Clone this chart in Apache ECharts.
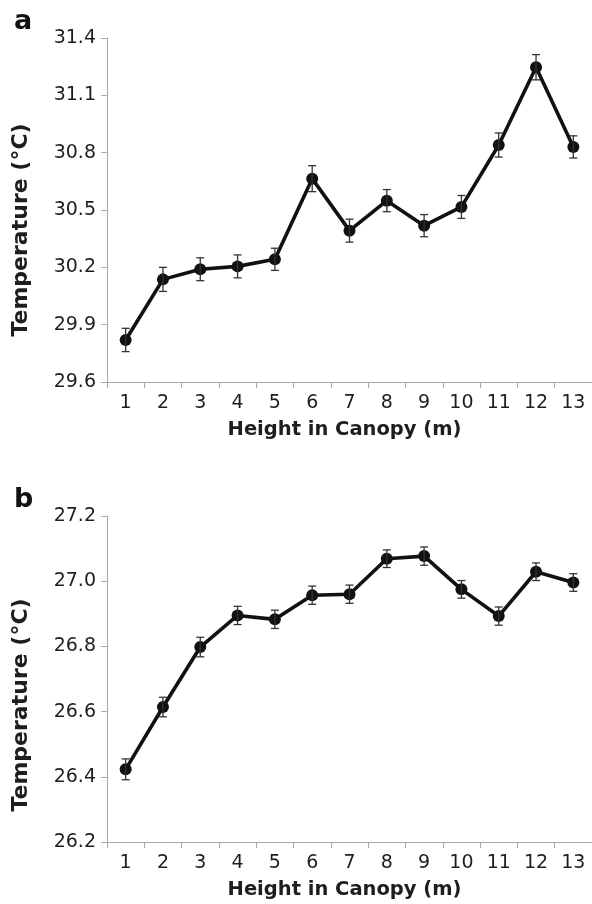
<!DOCTYPE html>
<html>
<head>
<meta charset="utf-8">
<script src="https://cdn.jsdelivr.net/npm/echarts@6/dist/echarts.min.js"></script>
<style>
html,body{margin:0;padding:0;background:#fff;}
#chart{width:592px;height:904px;}
</style>
</head>
<body>
<div id="chart"></div>
<script>
// ---- Data ----
var heights = ['1','2','3','4','5','6','7','8','9','10','11','12','13'];
var tempA = [29.82, 30.137, 30.19, 30.205, 30.242, 30.664, 30.392, 30.549, 30.418, 30.516, 30.84, 31.247, 30.83];
var errA  = [0.061, 0.063, 0.060, 0.060, 0.058, 0.068, 0.060, 0.058, 0.058, 0.060, 0.063, 0.066, 0.058];
var tempB = [26.423, 26.614, 26.798, 26.895, 26.883, 26.957, 26.960, 27.069, 27.077, 26.975, 26.893, 27.029, 26.996];
var errB  = [0.032, 0.030, 0.030, 0.028, 0.028, 0.028, 0.028, 0.027, 0.028, 0.027, 0.028, 0.027, 0.027];
var yTicksA = [29.6, 29.9, 30.2, 30.5, 30.8, 31.1, 31.4];
var yTicksB = [26.2, 26.4, 26.6, 26.8, 27.0, 27.2];

var FONT = '"DejaVu Sans", "Liberation Sans", Arial, sans-serif';
var AXIS_COLOR = '#aaaaaa';
var TEXT_COLOR = '#1e1e1e';

function errData(means, errs) {
  return means.map(function (m, i) { return [i, m, errs[i]]; });
}

function renderErr(params, api) {
  var i = api.value(0), m = api.value(1), e = api.value(2);
  var hi = api.coord([i, m + e]);
  var lo = api.coord([i, m - e]);
  var cap = 4;
  var style = { stroke: '#333333', lineWidth: 1.3 };
  return {
    type: 'group',
    children: [
      { type: 'line', shape: { x1: hi[0], y1: hi[1], x2: lo[0], y2: lo[1] }, style: style },
      { type: 'line', shape: { x1: hi[0] - cap, y1: hi[1], x2: hi[0] + cap, y2: hi[1] }, style: style },
      { type: 'line', shape: { x1: lo[0] - cap, y1: lo[1], x2: lo[0] + cap, y2: lo[1] }, style: style }
    ]
  };
}

function xAxisCfg(gridIndex) {
  return {
    gridIndex: gridIndex,
    type: 'category',
    data: heights,
    boundaryGap: true,
    name: 'Height in Canopy (m)',
    nameLocation: 'middle',
    nameGap: 38,
    nameTextStyle: { fontFamily: FONT, fontSize: 19.5, fontWeight: 'bold', color: TEXT_COLOR, padding: [0, 10, 0, 0] },
    axisLine: { show: true, lineStyle: { color: AXIS_COLOR, width: 1 } },
    axisTick: { show: true, alignWithLabel: false, length: 6, inside: false, lineStyle: { color: AXIS_COLOR, width: 1 } },
    axisLabel: { show: true, margin: 12, fontFamily: FONT, fontSize: 19, color: TEXT_COLOR, interval: 0 },
    splitLine: { show: false }
  };
}

function yAxisCfg(gridIndex, ticks, minV, maxV, shift) {
  return {
    gridIndex: gridIndex,
    type: 'value',
    min: minV,
    max: maxV,
    name: 'Temperature (°C)',
    nameLocation: 'middle',
    nameGap: 75,
    nameTextStyle: { fontFamily: FONT, fontSize: 22, fontWeight: 'bold', color: TEXT_COLOR, padding: [0, shift * 2, 0, 0] },
    axisLine: { show: true, lineStyle: { color: AXIS_COLOR, width: 1 } },
    axisTick: { show: true, length: 6, customValues: ticks, lineStyle: { color: AXIS_COLOR, width: 1 } },
    axisLabel: {
      show: true, margin: 11, fontFamily: FONT, fontSize: 19, color: TEXT_COLOR,
      customValues: ticks,
      formatter: function (v) { return Number(v).toFixed(1); }
    },
    splitLine: { show: false }
  };
}

function lineSeries(idx, data) {
  return {
    type: 'line',
    xAxisIndex: idx, yAxisIndex: idx,
    data: data,
    symbol: 'circle',
    symbolSize: 12,
    itemStyle: { color: '#111111' },
    lineStyle: { color: '#111111', width: 3.6 },
    z: 3,
    animation: false
  };
}

function errSeries(idx, means, errs) {
  return {
    type: 'custom',
    xAxisIndex: idx, yAxisIndex: idx,
    data: errData(means, errs),
    renderItem: renderErr,
    z: 4,
    silent: true,
    animation: false
  };
}

var chart = echarts.init(document.getElementById('chart'), null, { renderer: 'canvas' });
chart.setOption({
  backgroundColor: '#ffffff',
  animation: false,
  title: [
    { text: 'a', left: 9, top: 3, textStyle: { fontFamily: FONT, fontSize: 27, fontWeight: 'bold', color: '#111' } },
    { text: 'b', left: 9, top: 481, textStyle: { fontFamily: FONT, fontSize: 27, fontWeight: 'bold', color: '#111' } }
  ],
  grid: [
    { left: 107, top: 38, width: 489, height: 344, containLabel: false },
    { left: 107, top: 516, width: 489, height: 326, containLabel: false }
  ],
  xAxis: [xAxisCfg(0), xAxisCfg(1)],
  yAxis: [
    yAxisCfg(0, yTicksA, yTicksA[0], yTicksA[yTicksA.length - 1], 20),
    yAxisCfg(1, yTicksB, yTicksB[0], yTicksB[yTicksB.length - 1], 26)
  ],
  series: [
    lineSeries(0, tempA),
    errSeries(0, tempA, errA),
    lineSeries(1, tempB),
    errSeries(1, tempB, errB)
  ]
});
</script>
</body>
</html>
